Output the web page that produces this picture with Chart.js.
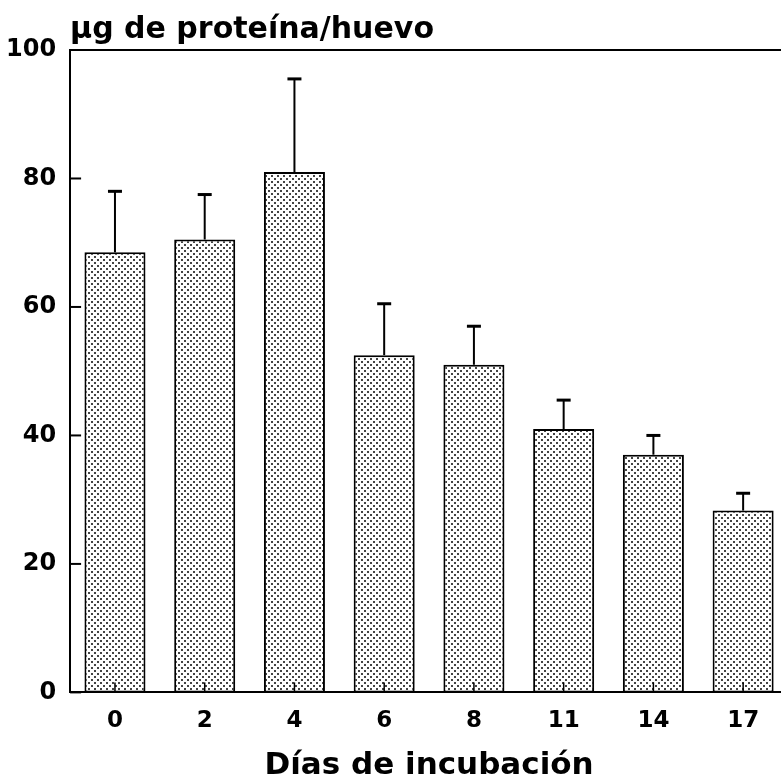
<!DOCTYPE html>
<html>
<head>
<meta charset="utf-8">
<script src="https://cdn.jsdelivr.net/npm/chart.js@4.4.1/dist/chart.umd.min.js"></script>
<style>
  html, body { margin: 0; padding: 0; background: #fff; overflow: hidden; }
  .wrap { position: relative; width: 790px; height: 781px; }
</style>
</head>
<body>
<div class="wrap"><canvas id="chart"></canvas></div>
<script>
"use strict";

// días de incubación y proteína por huevo (media, + desviación)
const days = ["0", "2", "4", "6", "8", "11", "14", "17"];
const protein = [68.5, 70.5, 81, 52.5, 51, 41, 37, 28.3];
const proteinSd = [9.5, 7, 14.5, 8, 6, 4.5, 3, 2.7];
const yTicks = [0, 20, 40, 60, 80, 100];

const FONT = "'DejaVu Sans', Arial, sans-serif";

// punteado gris de las barras
function dotPattern() {
  const c = document.createElement("canvas");
  c.width = 6;
  c.height = 6;
  const g = c.getContext("2d");
  g.fillStyle = "#fff";
  g.fillRect(0, 0, 6, 6);
  g.fillStyle = "#444";
  g.fillRect(1, 1, 2, 2);
  g.fillRect(4, 4, 2, 2);
  return g.createPattern(c, "repeat");
}

const errorBars = {
  id: "errorBars",
  afterDatasetsDraw(chart) {
    const { ctx } = chart;
    const y = chart.scales.y;
    const meta = chart.getDatasetMeta(0);
    ctx.save();
    ctx.strokeStyle = "#000";
    meta.data.forEach((bar, i) => {
      const y0 = y.getPixelForValue(protein[i]);
      const y1 = y.getPixelForValue(protein[i] + proteinSd[i]);
      ctx.lineWidth = 2;
      ctx.beginPath();
      ctx.moveTo(bar.x, y0);
      ctx.lineTo(bar.x, y1);
      ctx.stroke();
      ctx.lineWidth = 3;
      ctx.beginPath();
      ctx.moveTo(bar.x - 7, y1);
      ctx.lineTo(bar.x + 7, y1);
      ctx.stroke();
    });
    ctx.restore();
  },
};

// marcas hacia dentro y línea superior del marco
const frame = {
  id: "frame",
  afterDraw(chart) {
    const { ctx, chartArea: a } = chart;
    const x = chart.scales.x;
    const y = chart.scales.y;
    ctx.save();
    ctx.strokeStyle = "#000";
    ctx.lineWidth = 2;
    ctx.beginPath();
    ctx.moveTo(a.left, a.top);
    ctx.lineTo(a.right, a.top);
    ctx.stroke();
    y.ticks.forEach((t) => {
      const py = y.getPixelForValue(t.value);
      ctx.beginPath();
      ctx.moveTo(a.left, py);
      ctx.lineTo(a.left + 11, py);
      ctx.stroke();
    });
    ctx.lineWidth = 1.5;
    days.forEach((d, i) => {
      const px = x.getPixelForValue(i);
      ctx.beginPath();
      ctx.moveTo(px, a.bottom);
      ctx.lineTo(px, a.bottom - 10);
      ctx.stroke();
    });
    ctx.restore();
  },
};

const chart = new Chart(document.getElementById("chart"), {
  type: "bar",
  data: {
    labels: days,
    datasets: [
      {
        data: protein,
        backgroundColor: dotPattern(),
        borderColor: "#000",
        borderWidth: 2,
        borderSkipped: false,
        barPercentage: 0.68,
        categoryPercentage: 1,
      },
    ],
  },
  options: {
    responsive: true,
    maintainAspectRatio: false,
    animation: false,
    layout: { padding: { left: -8, right: 2, top: 0, bottom: 0 } },
    plugins: {
      legend: { display: false },
      tooltip: { enabled: false },
      title: {
        display: true,
        text: "µg de proteína/huevo",
        align: "start",
        fullSize: false,
        color: "#000",
        font: { family: FONT, size: 30, weight: "bold" },
        padding: { top: 12, bottom: 2 },
      },
    },
    scales: {
      x: {
        offset: true,
        grid: { display: false, drawTicks: false },
        border: { display: true, color: "#000", width: 2 },
        ticks: {
          color: "#000",
          padding: 15,
          font: { family: FONT, size: 23, weight: "bold" },
        },
        title: {
          display: true,
          text: "Días de incubación",
          color: "#000",
          font: { family: FONT, size: 31, weight: "bold", lineHeight: 1 },
          padding: { top: 0, bottom: 0 },
        },
      },
      y: {
        min: 0,
        max: 100,
        afterBuildTicks: (scale) => {
          scale.ticks = yTicks.map((v) => ({ value: v }));
        },
        grid: { display: false, drawTicks: false },
        border: { display: true, color: "#000", width: 2 },
        ticks: {
          color: "#000",
          padding: 14,
          font: { family: FONT, size: 24, weight: "bold" },
        },
      },
    },
  },
  plugins: [errorBars, frame],
});
</script>
</body>
</html>
